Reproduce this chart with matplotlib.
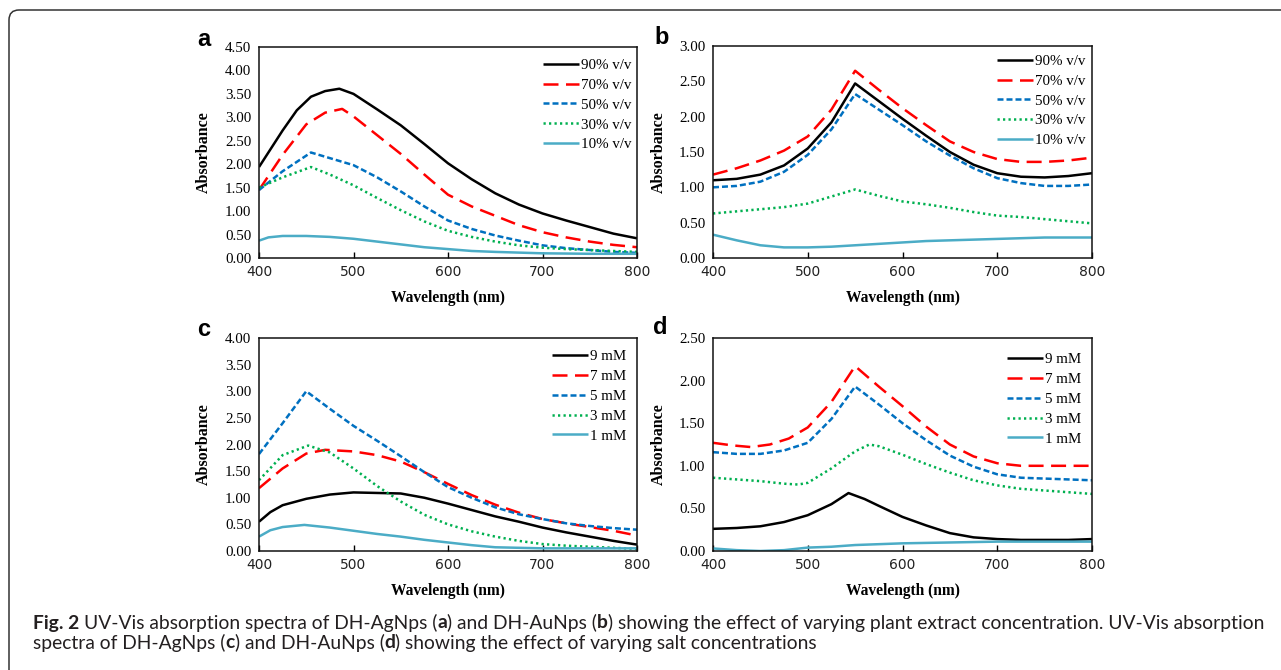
import matplotlib
matplotlib.use('Agg')
import matplotlib.pyplot as plt
from matplotlib import font_manager
from matplotlib.patches import FancyBboxPatch
from matplotlib.transforms import IdentityTransform

# panel a: DH-AgNps, plant extract concentration
A90_WL = [400, 425, 440, 455, 470, 485, 500, 525, 550, 575, 600, 625, 650, 675, 700, 725, 750, 775, 800]
A90_AB = [1.94, 2.72, 3.15, 3.44, 3.56, 3.61, 3.50, 3.17, 2.83, 2.43, 2.02, 1.68, 1.38, 1.14, 0.95, 0.80, 0.66, 0.52, 0.42]
A70_WL = [400, 425, 450, 470, 488, 500, 525, 550, 575, 600, 625, 650, 675, 700, 725, 750, 775, 800]
A70_AB = [1.45, 2.20, 2.85, 3.10, 3.18, 3.02, 2.62, 2.22, 1.78, 1.35, 1.10, 0.90, 0.70, 0.55, 0.44, 0.35, 0.28, 0.23]
A50_WL = [400, 425, 455, 475, 500, 525, 550, 575, 600, 625, 650, 675, 700, 725, 750, 775, 800]
A50_AB = [1.45, 1.85, 2.25, 2.13, 1.98, 1.72, 1.42, 1.10, 0.80, 0.62, 0.48, 0.37, 0.27, 0.21, 0.17, 0.13, 0.11]
A30_WL = [400, 425, 455, 475, 500, 525, 550, 575, 600, 625, 650, 675, 700, 725, 750, 775, 800]
A30_AB = [1.50, 1.72, 1.94, 1.78, 1.55, 1.28, 1.02, 0.78, 0.58, 0.45, 0.35, 0.27, 0.22, 0.19, 0.17, 0.15, 0.13]
A10_WL = [400, 410, 425, 450, 475, 500, 525, 550, 575, 600, 625, 650, 700, 750, 800]
A10_AB = [0.37, 0.44, 0.47, 0.47, 0.45, 0.41, 0.35, 0.29, 0.23, 0.19, 0.15, 0.13, 0.10, 0.09, 0.09]

# panel b: DH-AuNps, plant extract concentration
B_WL = [400, 425, 450, 475, 500, 525, 550, 575, 600, 625, 650, 675, 700, 725, 750, 775, 800]
B90_AB = [1.10, 1.12, 1.18, 1.31, 1.55, 1.92, 2.47, 2.22, 1.97, 1.73, 1.50, 1.32, 1.20, 1.15, 1.14, 1.16, 1.20]
B70_AB = [1.18, 1.27, 1.38, 1.52, 1.72, 2.10, 2.65, 2.38, 2.12, 1.88, 1.65, 1.50, 1.40, 1.36, 1.36, 1.38, 1.42]
B50_AB = [1.00, 1.02, 1.08, 1.22, 1.46, 1.82, 2.32, 2.10, 1.88, 1.65, 1.45, 1.27, 1.13, 1.06, 1.02, 1.02, 1.04]
B30_AB = [0.63, 0.66, 0.69, 0.72, 0.77, 0.87, 0.97, 0.88, 0.80, 0.76, 0.71, 0.65, 0.60, 0.58, 0.55, 0.52, 0.49]
B10_AB = [0.33, 0.25, 0.18, 0.15, 0.15, 0.16, 0.18, 0.20, 0.22, 0.24, 0.25, 0.26, 0.27, 0.28, 0.29, 0.29, 0.29]

# panel c: DH-AgNps, salt concentration
C9_WL = [400, 412, 425, 450, 475, 500, 525, 550, 575, 600, 625, 650, 675, 700, 725, 750, 775, 800]
C9_AB = [0.55, 0.73, 0.86, 0.98, 1.06, 1.10, 1.09, 1.08, 1.00, 0.89, 0.77, 0.65, 0.55, 0.44, 0.35, 0.27, 0.19, 0.12]
C7_WL = [400, 425, 450, 470, 500, 525, 550, 575, 600, 625, 650, 675, 700, 725, 750, 775, 800]
C7_AB = [1.18, 1.55, 1.83, 1.90, 1.87, 1.80, 1.68, 1.48, 1.26, 1.05, 0.87, 0.72, 0.60, 0.52, 0.45, 0.38, 0.29]
C5_WL = [400, 425, 450, 475, 500, 525, 550, 575, 600, 625, 650, 675, 700, 725, 750, 775, 800]
C5_AB = [1.82, 2.40, 3.00, 2.67, 2.35, 2.07, 1.78, 1.48, 1.20, 1.00, 0.82, 0.69, 0.60, 0.52, 0.47, 0.43, 0.40]
C3_WL = [400, 425, 452, 475, 500, 525, 550, 575, 600, 625, 650, 675, 700, 725, 750, 775, 800]
C3_AB = [1.33, 1.80, 1.98, 1.85, 1.55, 1.22, 0.93, 0.68, 0.50, 0.37, 0.27, 0.19, 0.13, 0.10, 0.08, 0.06, 0.04]
C1_WL = [400, 412, 425, 448, 475, 500, 525, 550, 575, 600, 625, 650, 700, 750, 800]
C1_AB = [0.27, 0.39, 0.45, 0.49, 0.44, 0.38, 0.32, 0.27, 0.21, 0.16, 0.11, 0.07, 0.05, 0.05, 0.05]

# panel d: DH-AuNps, salt concentration
D9_WL = [400, 425, 450, 475, 500, 525, 543, 560, 575, 600, 625, 650, 675, 700, 725, 750, 775, 800]
D9_AB = [0.26, 0.27, 0.29, 0.34, 0.42, 0.55, 0.68, 0.61, 0.53, 0.40, 0.30, 0.21, 0.16, 0.14, 0.13, 0.13, 0.13, 0.14]
D7_WL = [400, 420, 440, 460, 480, 500, 525, 550, 575, 600, 625, 650, 675, 700, 725, 750, 775, 800]
D7_AB = [1.27, 1.24, 1.22, 1.25, 1.32, 1.45, 1.75, 2.17, 1.93, 1.70, 1.46, 1.25, 1.11, 1.03, 1.00, 1.00, 1.00, 1.00]
D5_WL = [400, 425, 450, 475, 500, 525, 550, 575, 600, 625, 650, 675, 700, 725, 750, 775, 800]
D5_AB = [1.16, 1.14, 1.14, 1.18, 1.27, 1.55, 1.93, 1.72, 1.50, 1.30, 1.12, 0.99, 0.90, 0.86, 0.85, 0.84, 0.83]
D3_WL = [400, 425, 450, 475, 490, 500, 525, 550, 565, 575, 600, 625, 650, 675, 700, 725, 750, 775, 800]
D3_AB = [0.86, 0.84, 0.82, 0.79, 0.78, 0.80, 0.97, 1.17, 1.25, 1.23, 1.13, 1.02, 0.92, 0.83, 0.77, 0.73, 0.71, 0.69, 0.67]
D1_WL = [400, 425, 450, 475, 500, 525, 550, 575, 600, 650, 700, 750, 800]
D1_AB = [0.03, 0.01, 0.00, 0.01, 0.04, 0.05, 0.07, 0.08, 0.09, 0.10, 0.11, 0.11, 0.11]

PLANT_LABELS = ["90% v/v", "70% v/v", "50% v/v", "30% v/v", "10% v/v"]
SALT_LABELS = ["9 mM", "7 mM", "5 mM", "3 mM", "1 mM"]

COLORS = ["#000000", "#ff0000", "#0070c0", "#00b050", "#4bacc6"]
DASHES = [None, (6, 3), (2.4, 1.2), (0.9, 1.3), None]
LW = 1.8

SERIF = "Liberation Serif"
SANS = "DejaVu Sans"

fig = plt.figure(figsize=(12.81, 6.70), dpi=100)


def px_axes(x0, y0, x1, y1):
    # pixel box (top-left origin) -> figure fraction axes
    W, H = 1281.0, 670.0
    return fig.add_axes([x0 / W, 1 - y1 / H, (x1 - x0) / W, (y1 - y0) / H])


def panel(ax, series, labels, ymax, ystep, leg_xy, ylab_x):
    for (wl, ab), lab, c, d in zip(series, labels, COLORS, DASHES):
        line, = ax.plot(wl, ab, color=c, lw=LW, label=lab, solid_capstyle="butt")
        if d is not None:
            line.set_dashes(d)
    ax.set_xlim(400, 800)
    ax.set_ylim(0, ymax)
    ax.set_xticks([400, 500, 600, 700, 800])
    yt = [i * ystep for i in range(int(round(ymax / ystep)) + 1)]
    ax.set_yticks(yt)
    ax.set_yticklabels(["%.2f" % v for v in yt], fontfamily=SERIF, fontsize=10.8)
    ax.set_xticklabels(["400", "500", "600", "700", "800"], fontfamily=SANS, fontsize=10, color="#222222")
    ax.tick_params(axis="x", direction="in", length=4, width=1, pad=5)
    ax.tick_params(axis="y", length=0, pad=5.5)
    for s in ax.spines.values():
        s.set_linewidth(1.1)
        s.set_color("#111111")
    ax.set_xlabel("Wavelength (nm)", fontfamily=SERIF, fontweight="bold", fontsize=11.2)
    ax.set_ylabel("Absorbance", fontfamily=SERIF, fontweight="bold", fontsize=11.5)
    ax.xaxis.set_label_coords(0.5, -0.15)
    ax.yaxis.set_label_coords(ylab_x, 0.5)
    ax.legend(loc="upper left", bbox_to_anchor=leg_xy, frameon=False,
              prop={"family": SERIF, "size": 10.8}, handlelength=2.4,
              handletextpad=0.15, labelspacing=0.42, borderpad=0, borderaxespad=0)


ax_a = px_axes(259, 47, 637, 258)
panel(ax_a, [(A90_WL, A90_AB), (A70_WL, A70_AB), (A50_WL, A50_AB), (A30_WL, A30_AB), (A10_WL, A10_AB)],
      PLANT_LABELS, 4.5, 0.5, (0.751, 0.945), -0.124)

ax_b = px_axes(713, 46, 1092, 258)
panel(ax_b, [(B_WL, B90_AB), (B_WL, B70_AB), (B_WL, B50_AB), (B_WL, B30_AB), (B_WL, B10_AB)],
      PLANT_LABELS, 3.0, 0.5, (0.749, 0.96), -0.121)

ax_c = px_axes(259, 338, 637, 551)
panel(ax_c, [(C9_WL, C9_AB), (C7_WL, C7_AB), (C5_WL, C5_AB), (C3_WL, C3_AB), (C1_WL, C1_AB)],
      SALT_LABELS, 4.0, 0.5, (0.775, 0.944), -0.124)

ax_d = px_axes(713, 338, 1092, 551)
panel(ax_d, [(D9_WL, D9_AB), (D7_WL, D7_AB), (D5_WL, D5_AB), (D3_WL, D3_AB), (D1_WL, D1_AB)],
      SALT_LABELS, 2.5, 0.5, (0.776, 0.93), -0.121)

# panel letters
for letter, (x, y) in zip("abcd", [(204, 39), (662, 38), (204, 330), (660, 328)]):
    fig.text(x / 1281, 1 - y / 670, letter, fontfamily="Liberation Sans", fontweight="bold",
             fontsize=17, ha="center", va="center")

# rounded frame, open to the right and bottom
frame = FancyBboxPatch((9, -30), 1320, 690, boxstyle="round,pad=0,rounding_size=10",
                       transform=IdentityTransform(), fill=False, lw=1.1, ec="#333333")
fig.add_artist(frame)

# caption, built from bold / normal runs
names = {f.name for f in font_manager.fontManager.ttflist}
CAP_FONT = "Liberation Sans Narrow" if "Liberation Sans Narrow" in names else "Lato"

LINE1 = [("Fig. 2", "bold"), (" ", "normal"), ("UV-Vis absorption spectra of DH-AgNps (", "normal"), ("a", "bold"),
         (") and DH-AuNps (", "normal"), ("b", "bold"),
         (") showing the effect of varying plant extract concentration. UV-Vis absorption", "normal")]
LINE2 = [("spectra of DH-AgNps (", "normal"), ("c", "bold"), (") and DH-AuNps (", "normal"), ("d", "bold"),
         (") showing the effect of varying salt concentrations", "normal")]

renderer = fig.canvas.get_renderer()


def run_width(s, weight, size):
    # advance width in px, measured between sentinels so spaces count
    t = fig.text(0, 0, "|" + s + "|", fontfamily=CAP_FONT, fontweight=weight, fontsize=size)
    t0 = fig.text(0, 0, "||", fontfamily=CAP_FONT, fontweight=weight, fontsize=size)
    w = t.get_window_extent(renderer).width - t0.get_window_extent(renderer).width
    t.remove()
    t0.remove()
    return w


def draw_line(runs, x, y, size):
    for s, weight in runs:
        if s.strip():
            fig.text(x, y, s, fontfamily=CAP_FONT, fontweight=weight, fontsize=size,
                     transform=IdentityTransform(), va="center", ha="left", color="#231f20")
        x += run_width(s, weight, size)


base = 10.0
w1 = sum(run_width(s, wt, base) for s, wt in LINE1)
cap_size = base * (1270 - 33) / w1
draw_line(LINE1, 33, 670 - 623, cap_size)
draw_line(LINE2, 33, 670 - 643, cap_size)

fig.savefig("out.png", dpi=100)
